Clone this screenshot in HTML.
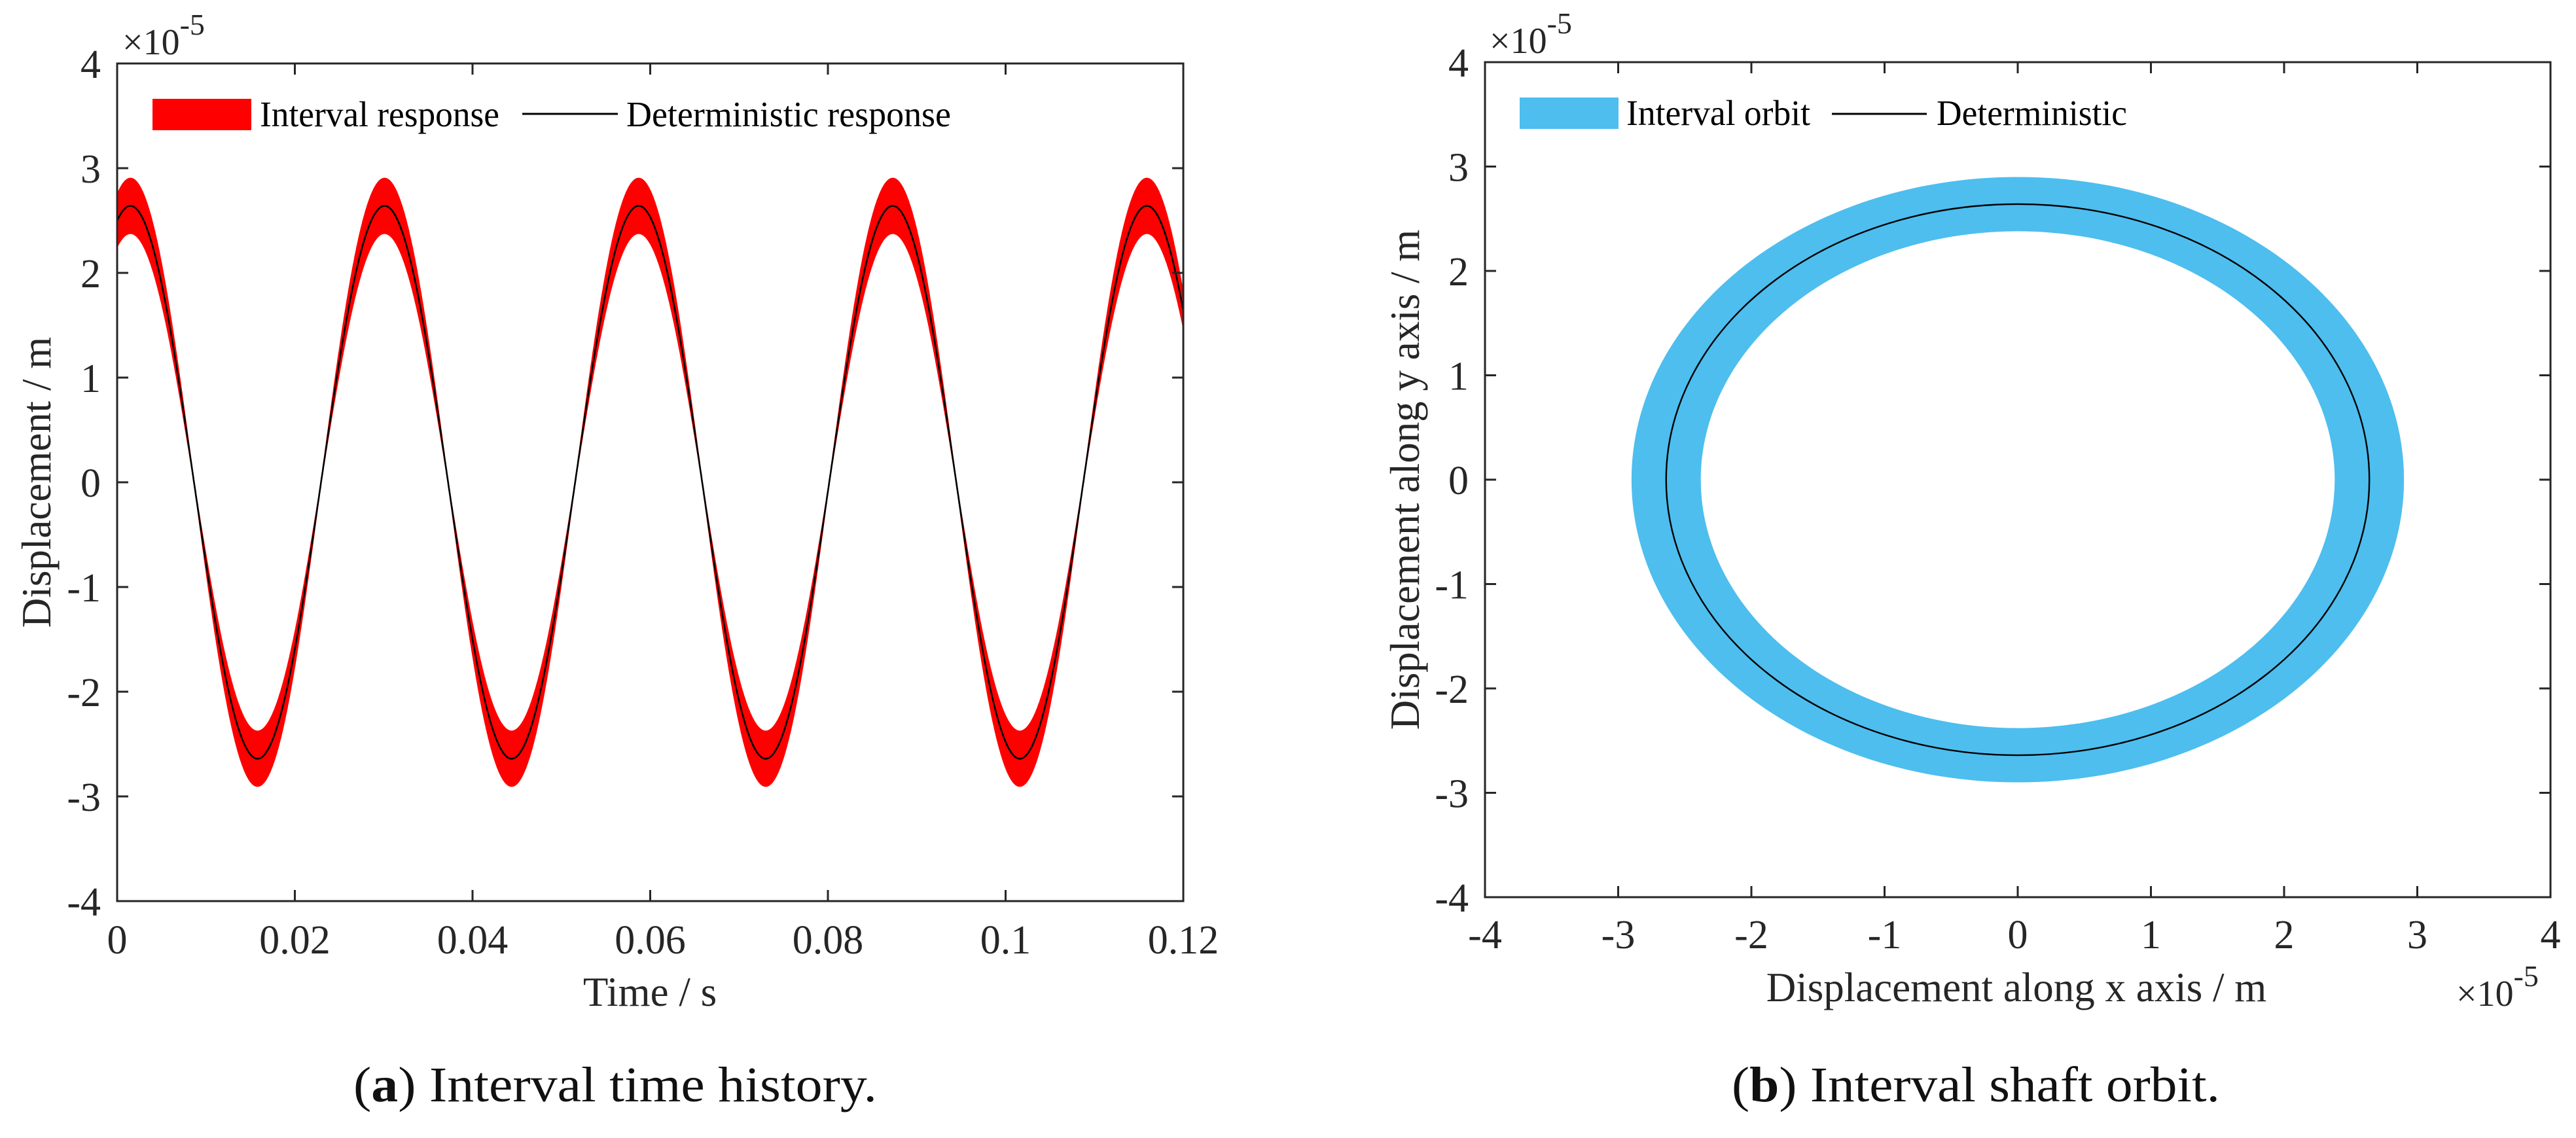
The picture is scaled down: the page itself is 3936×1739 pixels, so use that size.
<!DOCTYPE html>
<html><head><meta charset="utf-8"><style>
html,body{margin:0;padding:0;background:#fff;}
svg, svg text{font-family:"Liberation Serif","Times New Roman",serif;}
</style></head><body>
<svg id="fig" width="3936" height="1734" viewBox="0 0 3936 1734" xmlns="http://www.w3.org/2000/svg" font-family="Liberation Serif, serif">
<g id="pa"></g>
<g id="pb"></g>
<text x="540" y="1683" font-size="76" font-family="Liberation Serif, serif" fill="#111" textLength="800" lengthAdjust="spacingAndGlyphs">(<tspan font-weight="bold">a</tspan>) Interval time history.</text>
<text x="2646" y="1683" font-size="76" font-family="Liberation Serif, serif" fill="#111" textLength="746" lengthAdjust="spacingAndGlyphs">(<tspan font-weight="bold">b</tspan>) Interval shaft orbit.</text>
</svg>
<script>
// ---- Chart (a) data ----
const extremaTimes = [-0.0128, 0.0015, 0.0158, 0.0301, 0.0444, 0.0587, 0.0730, 0.0873, 0.1016, 0.1159, 0.1302];
const extremaValues = [-2.64, 2.64, -2.64, 2.64, -2.64, 2.64, -2.64, 2.64, -2.64, 2.64, -2.64];
const bandLowFactor = [0.9];
const bandHighFactor = [1.1];
const xTicksA = [0, 0.02, 0.04, 0.06, 0.08, 0.1, 0.12];
const xTickLabelsA = ["0", "0.02", "0.04", "0.06", "0.08", "0.1", "0.12"];
const yTicks = [-4, -3, -2, -1, 0, 1, 2, 3, 4];
const yTickLabels = ["-4", "-3", "-2", "-1", "0", "1", "2", "3", "4"];
// ---- Chart (b) data ----
const orbitDetRadius = [2.64, 2.64];
const orbitOuterRadius = [2.90, 2.90];
const orbitInnerRadius = [2.38, 2.38];
const orbitCenter = [0, 0];
const xTicksB = [-4, -3, -2, -1, 0, 1, 2, 3, 4];
const xTickLabelsB = ["-4", "-3", "-2", "-1", "0", "1", "2", "3", "4"];

const NS = "http://www.w3.org/2000/svg";
const FF = "Liberation Serif, serif";
function mk(parent, tag, attrs) {
  const e = document.createElementNS(NS, tag);
  for (const k in attrs) e.setAttribute(k, attrs[k]);
  if (tag === "text") e.setAttribute("font-family", FF);
  parent.appendChild(e);
  return e;
}
const AX = "#262626";

function drawAxes(g, box, xs, ys, xt, xtl, yt, ytl, xlabBase) {
  const fr = mk(g, "rect", {x: box.l, y: box.t, width: box.r - box.l, height: box.b - box.t, fill: "none", stroke: AX, "stroke-width": 3});
  
  
  xt.forEach((v, i) => {
    const x = xs(v);
    const t1 = mk(g, "line", {x1: x, x2: x, y1: box.b, y2: box.b - 17, stroke: AX, "stroke-width": 3});
    
    
    const t2 = mk(g, "line", {x1: x, x2: x, y1: box.t, y2: box.t + 17, stroke: AX, "stroke-width": 3});
    
    
    const lb = mk(g, "text", {x: x, y: box.b + xlabBase, "font-size": 62, fill: AX, "text-anchor": "middle"});
    lb.textContent = xtl[i];
    
    
  });
  yt.forEach((v, i) => {
    const y = ys(v);
    const t1 = mk(g, "line", {x1: box.l, x2: box.l + 17, y1: y, y2: y, stroke: AX, "stroke-width": 3});
    
    
    const t2 = mk(g, "line", {x1: box.r, x2: box.r - 17, y1: y, y2: y, stroke: AX, "stroke-width": 3});
    
    
    const lb = mk(g, "text", {x: box.l - 25, y: y + 22, "font-size": 62, fill: AX, "text-anchor": "end"});
    lb.textContent = ytl[i];
    
    
  });
}
function expLabel(g, x, y, name) {
  const t = mk(g, "text", {x: x, y: y, "font-size": 56, fill: AX});
  t.innerHTML = '×10<tspan dy="-30" font-size="46">-5</tspan>';
  
  
}

// ===== Chart A =====
(function () {
  const g = document.getElementById("pa");
  const box = {l: 179, r: 1808, t: 97, b: 1377};
  const xs = v => box.l + (v - 0) / 0.12 * (box.r - box.l);
  const ys = v => box.b - (v + 4) / 8 * (box.b - box.t);
  const N = 2400, det = [], ts = [];
  for (let i = 0; i <= N; i++) {
    const t = 0.12 * i / N;
    let k = 0;
    while (k < extremaTimes.length - 2 && t > extremaTimes[k + 1]) k++;
    const t0 = extremaTimes[k], t1 = extremaTimes[k + 1];
    const s = (t - t0) / (t1 - t0);
    const a = extremaValues[k], b = extremaValues[k + 1];
    det.push(a + (b - a) * (1 - Math.cos(Math.PI * s)) / 2);
    ts.push(t);
  }
  let up = "", lo = "";
  for (let i = 0; i <= N; i++) {
    const d = det[i];
    const hi = Math.max(d * bandHighFactor[0], d * bandLowFactor[0]);
    const lw = Math.min(d * bandHighFactor[0], d * bandLowFactor[0]);
    up += (i ? "L" : "M") + xs(ts[i]).toFixed(1) + "," + ys(hi).toFixed(1);
    lo = "L" + xs(ts[i]).toFixed(1) + "," + ys(lw).toFixed(1) + lo;
  }
  const band = mk(g, "path", {d: up + lo + "Z", fill: "#ff0000", stroke: "#ff0000", "stroke-width": 1.5});
  
  
  let dl = "";
  for (let i = 0; i <= N; i++) dl += (i ? "L" : "M") + xs(ts[i]).toFixed(1) + "," + ys(det[i]).toFixed(1);
  const line = mk(g, "path", {d: dl, fill: "none", stroke: "#000", "stroke-width": 2.6});
  
  
  drawAxes(g, box, xs, ys, xTicksA, xTickLabelsA, yTicks, yTickLabels, 80);
  expLabel(g, 187, 83, "y-exponent-label");
  const lr = mk(g, "rect", {x: 233, y: 151, width: 151, height: 48, fill: "#ff0000"});
  
  
  const lt = mk(g, "text", {x: 397, y: 193, "font-size": 55, fill: "#000", textLength: 366, lengthAdjust: "spacingAndGlyphs"});
  lt.textContent = "Interval response";
  
  
  const ll = mk(g, "line", {x1: 798, x2: 944, y1: 174, y2: 174, stroke: "#000", "stroke-width": 3});
  
  
  const lt2 = mk(g, "text", {x: 957, y: 193, "font-size": 55, fill: "#000", textLength: 496, lengthAdjust: "spacingAndGlyphs"});
  lt2.textContent = "Deterministic response";
  
  
  const xt = mk(g, "text", {x: 993, y: 1537, "font-size": 63, fill: AX, "text-anchor": "middle"});
  xt.textContent = "Time / s";
  
  
  const yt = mk(g, "text", {x: 0, y: 0, "font-size": 63, fill: AX, "text-anchor": "middle", transform: "translate(77,737) rotate(-90)"});
  yt.textContent = "Displacement / m";
  
  
})();

// ===== Chart B =====
(function () {
  const g = document.getElementById("pb");
  const box = {l: 2269, r: 3897, t: 95, b: 1371};
  const xs = v => box.l + (v + 4) / 8 * (box.r - box.l);
  const ys = v => box.b - (v + 4) / 8 * (box.b - box.t);
  const cx = xs(orbitCenter[0]), cy = ys(orbitCenter[1]);
  const sx = (box.r - box.l) / 8, sy = (box.b - box.t) / 8;
  const ring = mk(g, "path", {
    d: `M${cx - orbitOuterRadius[0] * sx},${cy}a${orbitOuterRadius[0] * sx},${orbitOuterRadius[1] * sy} 0 1,0 ${2 * orbitOuterRadius[0] * sx},0a${orbitOuterRadius[0] * sx},${orbitOuterRadius[1] * sy} 0 1,0 ${-2 * orbitOuterRadius[0] * sx},0Z` +
       `M${cx - orbitInnerRadius[0] * sx},${cy}a${orbitInnerRadius[0] * sx},${orbitInnerRadius[1] * sy} 0 1,1 ${2 * orbitInnerRadius[0] * sx},0a${orbitInnerRadius[0] * sx},${orbitInnerRadius[1] * sy} 0 1,1 ${-2 * orbitInnerRadius[0] * sx},0Z`,
    fill: "#4dbeee", "fill-rule": "evenodd"});
  
  
  const el = mk(g, "ellipse", {cx: cx, cy: cy, rx: orbitDetRadius[0] * sx, ry: orbitDetRadius[1] * sy, fill: "none", stroke: "#000", "stroke-width": 2.4});
  
  
  drawAxes(g, box, xs, ys, xTicksB, xTickLabelsB, yTicks, yTickLabels, 78);
  expLabel(g, 2276, 81, "y-exponent-label");
  expLabel(g, 3753, 1537, "x-exponent-label");
  const lr = mk(g, "rect", {x: 2322, y: 149, width: 151, height: 48, fill: "#4dbeee"});
  
  
  const lt = mk(g, "text", {x: 2485, y: 191, "font-size": 55, fill: "#000", textLength: 281, lengthAdjust: "spacingAndGlyphs"});
  lt.textContent = "Interval orbit";
  
  
  const ll = mk(g, "line", {x1: 2799, x2: 2944, y1: 174, y2: 174, stroke: "#000", "stroke-width": 3});
  
  
  const lt2 = mk(g, "text", {x: 2959, y: 191, "font-size": 55, fill: "#000", textLength: 291, lengthAdjust: "spacingAndGlyphs"});
  lt2.textContent = "Deterministic";
  
  
  const xt = mk(g, "text", {x: 3081, y: 1530, "font-size": 63, fill: AX, "text-anchor": "middle"});
  xt.textContent = "Displacement along x axis / m";
  
  
  const yt = mk(g, "text", {x: 0, y: 0, "font-size": 63, fill: AX, "text-anchor": "middle", transform: "translate(2168,733) rotate(-90)"});
  yt.textContent = "Displacement along y axis / m";
  
  
})();
</script>
</body></html>
